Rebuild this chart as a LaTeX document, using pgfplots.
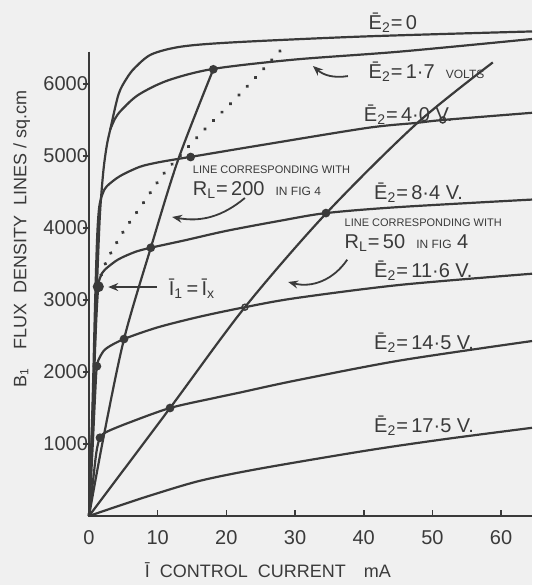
\documentclass[border=0pt]{standalone}
\usepackage{fontspec}
\setmainfont{Liberation Sans}
\usepackage{pgfplots}
\pgfplotsset{compat=1.18}
\usetikzlibrary{arrows.meta}
\definecolor{ink}{RGB}{58,58,58}
\definecolor{bg}{RGB}{240,240,240}
\newcommand{\Eb}{\={E}\textsubscript{2}}
\newcommand{\fs}[1]{\fontsize{#1}{#1}\selectfont}

\begin{document}
\begin{tikzpicture}
\fill[bg] (-44.5pt,-34.5pt) rectangle (221.5pt,258pt);
\begin{axis}[
  at={(0,0)}, anchor=south west,
  scale only axis, width=221.5pt, height=243pt,
  xmin=0, xmax=64.5, ymin=0, ymax=6750,
  axis lines=left, axis line style={draw=none},
  xtick={0,10,...,60}, ytick={1000,2000,...,6000},
  tick align=center, major tick length=3pt,
  xtick style={ink, line width=0.8pt, yshift=1.5pt},
  ytick style={ink, line width=0.8pt, xshift=-1.5pt},
  xticklabel style={font=\fs{10}, text=ink, yshift=-2pt},
  yticklabel style={font=\fs{10}, text=ink, xshift=4.5pt},
  /pgf/number format/assume math mode=true,
  /pgf/number format/1000 sep={},
  clip=false,
  every axis plot/.append style={ink, line width=1.1pt},
]
\draw[ink, line width=1.1pt] (axis cs:0,6450) -- (axis cs:0,0) -- (axis cs:64.5,0);

% E2 = 0
\addplot[smooth, no markers] coordinates {(0,0) (0.4,1000) (0.8,2200) (1.2,3300) (1.6,4200) (2.1,4800) (2.6,5150) (3.1,5370) (4.3,5857) (5.5,6080) (6.7,6227) (9.1,6412) (13.5,6520) (21.3,6580) (40,6660) (64.5,6730)};
% E2 = 1.7
\addplot[smooth, no markers] coordinates {(3.1,5370) (3.8,5520) (4.75,5640) (7.2,5850) (11.5,6050) (18.1,6210) (30,6340) (45.3,6450) (64.5,6625)};
% E2 = 4.0
\addplot[smooth, no markers] coordinates {(0,0) (0.5,1500) (0.9,3000) (1.2,3900) (1.5,4300) (2.0,4480) (2.6,4580) (4.5,4720) (7.4,4850) (10,4910) (13,4960) (16.2,5010) (25,5150) (40.5,5390) (47.7,5460) (51.5,5500) (64.5,5600)};
% E2 = 8.4
\addplot[smooth, no markers] coordinates {(0,0) (0.5,1300) (1.0,2600) (1.35,3185) (1.7,3330) (2.3,3420) (4.2,3560) (6.7,3667) (9.0,3726) (14,3830) (20,3960) (27.8,4100) (34.5,4207) (45,4290) (64.5,4395)};
% E2 = 11.6
\addplot[smooth, no markers] coordinates {(0,0) (0.5,900) (0.9,1700) (1.15,2080) (1.7,2230) (2.6,2333) (5.1,2458) (10,2620) (16.2,2770) (22.7,2900) (30,3025) (45.3,3210) (64.5,3365)};
% E2 = 14.5
\addplot[smooth, no markers] coordinates {(0,0) (0.6,500) (1.1,900) (1.6,1087) (2.5,1165) (5.7,1292) (11.8,1500) (18.3,1640) (22,1715) (30,1880) (45.3,2160) (64.5,2430)};
% E2 = 17.5
\addplot[smooth, no markers] coordinates {(0,0) (4,130) (9.1,290) (16.2,490) (25,660) (40.5,910) (52,1070) (64.5,1225)};
% load line R_L = 200
\addplot[smooth, no markers] coordinates {(0,0) (2.1,1087) (5.1,2458) (9.0,3726) (13.0,4954) (18.1,6204)};
% load line R_L = 50
\addplot[smooth, no markers] coordinates {(0,0) (11.8,1500) (22.7,2900) (34.5,4200) (47.7,5450) (58.8,6300)};
% dotted
\addplot[smooth, no markers, line width=1.9pt, line cap=round, dash pattern=on 0.01pt off 6pt] coordinates {(1.35,3185) (2.0,3420) (3.1,3640) (5.0,3950) (7.7,4320) (10.8,4745) (13.5,5028) (16.6,5347) (21.0,5764) (24.9,6157) (27.8,6458)};
% filled points
\addplot[only marks, mark=*, mark size=1.6pt, mark options={fill=ink, draw=ink}] coordinates {(18.1,6204) (14.8,4986) (9.0,3726) (5.1,2458) (1.6,1087) (1.15,2080) (34.5,4207) (11.8,1500)};
\addplot[only marks, mark=*, mark size=2.2pt, mark options={fill=ink, draw=ink}] coordinates {(1.35,3185)};
% open points
\addplot[only marks, mark=o, mark size=1.5pt, mark options={draw=ink, fill=bg, line width=0.7pt}] coordinates {(22.7,2900) (51.5,5500)};

% labels
\node[anchor=west, font=\fs{10}, text=ink] at (axis cs:39.7,6850) {\Eb=\,0};
\node[anchor=west, font=\fs{10}, text=ink] at (axis cs:39.7,6170) {\Eb=\,1·7\ \ {\fs{6}VOLTS}};
\draw[ink, line width=0.9pt, -{Stealth[length=5pt,width=4pt]}] (axis cs:37.7,6110) to[bend left=25] (axis cs:32.6,6250);
\node[anchor=west, font=\fs{10}, text=ink] at (axis cs:39.0,5580) {\Eb=\,4·0 V.};
\node[anchor=west, font=\fs{10}, text=ink] at (axis cs:40.5,4486) {\Eb=\,8·4 V.};
\node[anchor=west, font=\fs{5.5}, text=ink] at (axis cs:36.2,4069) {LINE CORRESPONDING WITH};
\node[anchor=west, font=\fs{10}, text=ink] at (axis cs:36.2,3792) {R\textsubscript{L}=\,50\ \ {\fs{6}IN FIG} 4};
\draw[ink, line width=0.9pt, -{Stealth[length=5pt,width=4pt]}] (axis cs:37.6,3560) to[bend left=35] (axis cs:29.0,3250);
\node[anchor=west, font=\fs{10}, text=ink] at (axis cs:40.5,3403) {\Eb=\,11·6 V.};
\node[anchor=west, font=\fs{10}, text=ink] at (axis cs:40.5,2403) {\Eb=\,14·5 V.};
\node[anchor=west, font=\fs{10}, text=ink] at (axis cs:40.5,1250) {\Eb=\,17·5 V.};
\node[anchor=west, font=\fs{5.5}, text=ink] at (axis cs:14.1,4806) {LINE CORRESPONDING WITH};
\node[anchor=west, font=\fs{10}, text=ink] at (axis cs:14.1,4528) {R\textsubscript{L}=\,200\ \ {\fs{6}IN FIG 4}};
\draw[ink, line width=0.9pt, -{Stealth[length=5pt,width=4pt]}] (axis cs:22.7,4417) to[bend left=25] (axis cs:12.1,4153);
\node[anchor=west, font=\fs{10}, text=ink] at (axis cs:10.6,3150) {\={I}\textsubscript{1}\,=\,\={I}\textsubscript{x}};
\draw[ink, line width=0.9pt, -{Stealth[length=5pt,width=4pt]}] (axis cs:9.9,3180) -- (axis cs:2.8,3180);

% axis labels
\node[rotate=90, font=\fs{9}, text=ink] at (rel axis cs:-0.152,0.57) {B\textsubscript{1}\quad FLUX\ \ DENSITY\ \ LINES\ /\ sq.cm};
\node[font=\fs{9}, text=ink] at (rel axis cs:0.404,-0.112) {\={I}\ \ CONTROL\ \ CURRENT\quad mA};
\end{axis}
\pgfresetboundingbox
\path[use as bounding box] (-44.5pt,-34.5pt) rectangle (221.5pt,258pt);
\end{tikzpicture}
\end{document}
